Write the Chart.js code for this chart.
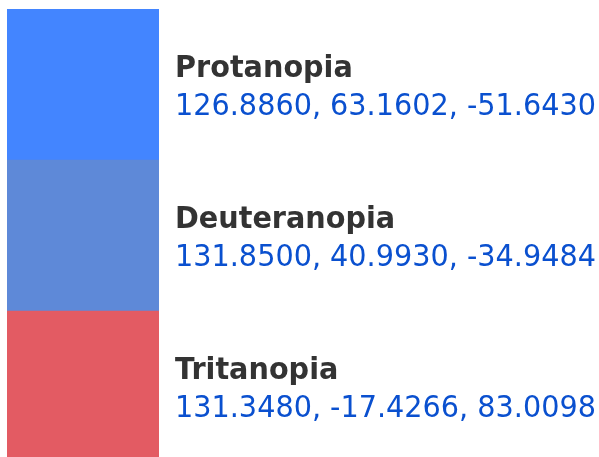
<!DOCTYPE html>
<html>
<head>
<meta charset="utf-8">
<script src="https://cdn.jsdelivr.net/npm/chart.js@4"></script>
<style>
    html, body { margin: 0; padding: 0; background: #fff; overflow: hidden; }
    #wrap { position: relative; width: 599px; height: 471px; }
</style>
</head>
<body>
<div id="wrap"><canvas id="swatchChart"></canvas></div>
<script>
const names = ['Protanopia', 'Deuteranopia', 'Tritanopia'];
const coords = [
    [126.8860, 63.1602, -51.6430],
    [131.8500, 40.9930, -34.9484],
    [131.3480, -17.4266, 83.0098]
];
const swatchColors = ['#4385ff', '#5e89d8', '#e35b63'];

document.addEventListener('DOMContentLoaded', function () {
    const ctx = document.getElementById('swatchChart');

    // draws name + coordinates to the right of each bar
    const labelPlugin = {
        id: 'swatchLabels',
        afterDatasetsDraw(chart) {
            const c = chart.ctx;
            const meta = chart.getDatasetMeta(0);
            const stretch = 1.045; // text in the source is a bit taller than wide
            meta.data.forEach((bar, i) => {
                const x = bar.x + 16;
                c.save();
                c.textAlign = 'left';
                c.textBaseline = 'alphabetic';
                c.translate(x, bar.y);
                c.scale(1, stretch);
                c.fillStyle = '#333333';
                c.font = 'bold 28.7px "DejaVu Sans"';
                c.fillText(names[i], 0, -8 / stretch);
                c.fillStyle = '#0a50cf';
                c.font = '28.7px "DejaVu Sans"';
                c.fillText(coords[i].map(v => v.toFixed(4)).join(', '), 0, 30 / stretch);
                c.restore();
            });
        }
    };

    new Chart(ctx, {
        type: 'bar',
        data: {
            labels: names,
            datasets: [{
                data: names.map(() => 1),
                backgroundColor: swatchColors,
                borderWidth: 0,
                barPercentage: 1,
                categoryPercentage: 1
            }]
        },
        options: {
            indexAxis: 'y',
            responsive: true,
            maintainAspectRatio: false,
            animation: false,
            layout: {
                padding: { left: 7, top: 9, bottom: 9, right: 440 }
            },
            plugins: {
                legend: { display: false },
                tooltip: { enabled: false }
            },
            scales: {
                x: { min: 0, max: 1, display: false },
                y: { display: false }
            }
        },
        plugins: [labelPlugin]
    });
});
</script>
</body>
</html>
